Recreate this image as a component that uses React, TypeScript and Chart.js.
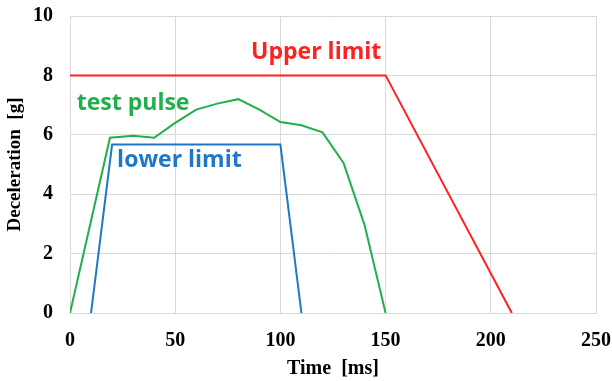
import React, { useEffect, useRef } from "react";
import { Chart, registerables } from "chart.js";

Chart.register(...registerables);

const upperX = [0, 150, 210];
const upperY = [8, 8, 0];
const pulseX = [0, 19, 30, 40, 50, 60, 70, 80, 90, 100, 110, 120, 130, 140, 150];
const pulseY = [0, 5.9, 5.97, 5.9, 6.4, 6.85, 7.05, 7.2, 6.85, 6.43, 6.32, 6.08, 5.05, 2.96, 0];
const lowerX = [10, 20, 100, 110];
const lowerY = [0, 5.67, 5.67, 0];

const labels = [
  { text: "Upper limit", x: 117, y: 8.78, color: "#ff2020" },
  { text: "test pulse", x: 30, y: 7.06, color: "#1fb04c" },
  { text: "lower limit", x: 52, y: 5.12, color: "#1f77c8" },
];

const toPts = (xs: number[], ys: number[]) => xs.map((x, i) => ({ x, y: ys[i] }));

const textPlugin = {
  id: "textLabels",
  afterDatasetsDraw(chart: any) {
    const { ctx, scales } = chart;
    ctx.save();
    ctx.font = "bold 23px 'Open Sans'";
    ctx.textAlign = "center";
    ctx.textBaseline = "middle";
    labels.forEach((l) => {
      ctx.fillStyle = l.color;
      ctx.fillText(l.text, scales.x.getPixelForValue(l.x), scales.y.getPixelForValue(l.y));
    });
    ctx.restore();
  },
};

const zeroPad = (s: any) => {
  s.paddingTop = 0;
  s.paddingBottom = 0;
  s.paddingLeft = 0;
  s.paddingRight = 0;
};

export default function App() {
  const ref = useRef<HTMLCanvasElement>(null);
  useEffect(() => {
    document.body.style.margin = "0";
    const chart = new Chart(ref.current!, {
      type: "scatter",
      data: {
        datasets: [
          { data: toPts(upperX, upperY), borderColor: "#ff2020", borderWidth: 2, showLine: true, pointRadius: 0 },
          { data: toPts(pulseX, pulseY), borderColor: "#1fb04c", borderWidth: 2, showLine: true, pointRadius: 0 },
          { data: toPts(lowerX, lowerY), borderColor: "#1f77c8", borderWidth: 2, showLine: true, pointRadius: 0 },
        ],
      },
      options: {
        animation: false,
        responsive: false,
        layout: { padding: { top: 16, right: 16, left: 0, bottom: 0 } },
        plugins: { legend: { display: false }, tooltip: { enabled: false } },
        scales: {
          x: {
            type: "linear",
            min: 0,
            max: 250,
            ticks: { stepSize: 50, color: "#000", font: { family: "Liberation Serif", weight: "bold", size: 20 }, padding: 16 },
            grid: { color: "#d9d9d9", lineWidth: 1, drawTicks: false },
            border: { color: "#d9d9d9" },
            title: { display: true, text: "Time  [ms]", color: "#000", font: { family: "Liberation Serif", weight: "bold", size: 20 }, padding: { top: 0, bottom: 0 } },
            afterFit: (s: any) => { s.height = 68; zeroPad(s); },
          },
          y: {
            min: 0,
            max: 10,
            ticks: { stepSize: 2, color: "#000", font: { family: "Liberation Serif", weight: "bold", size: 20 }, padding: 17 },
            grid: { color: "#d9d9d9", lineWidth: 1, drawTicks: false },
            border: { color: "#d9d9d9" },
            title: { display: true, text: "Deceleration  [g]", color: "#000", font: { family: "Liberation Serif", weight: "bold", size: 19 }, padding: { top: 4, bottom: 0 } },
            afterFit: (s: any) => { s.width = 70; zeroPad(s); },
          },
        },
      },
      plugins: [textPlugin],
    });
    return () => chart.destroy();
  }, []);
  return <canvas ref={ref} width={612} height={381} style={{ display: "block" }} />;
}
